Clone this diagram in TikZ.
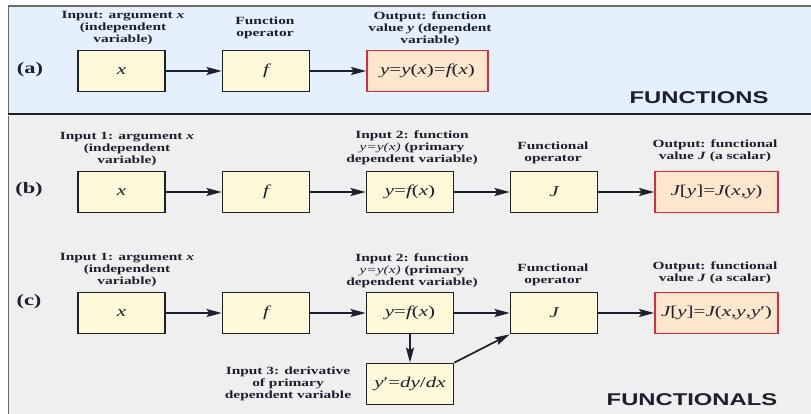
\documentclass[tikz,border=0pt]{standalone}
\usepackage{fontspec}
\setmainfont{Liberation Serif}[FakeStretch=1.4]
\newfontfamily\headfont{Liberation Sans}[FakeStretch=1.4]
\usetikzlibrary{arrows.meta}
\definecolor{panelA}{HTML}{E4F0FB}
\definecolor{panelB}{HTML}{EFEFEF}
\definecolor{boxfill}{HTML}{FDF9D8}
\definecolor{outfill}{HTML}{FCE6CC}
\definecolor{outline}{HTML}{E0283C}
\definecolor{ink}{HTML}{1E1E2E}
\definecolor{rim}{HTML}{6A6A6A}
\tikzset{
  opbox/.style={draw=ink, line width=1.8pt, fill=boxfill, minimum width=87pt,
    minimum height=41pt, inner sep=0pt, text=ink,
    font=\fontsize{15}{17}\selectfont\itshape},
  outbox/.style={opbox, draw=outline},
  lbl/.style={font=\fontsize{11}{12}\selectfont\bfseries, align=center,
    text=ink, inner sep=0pt},
  flow/.style={-{Stealth[length=15pt,width=8pt,inset=2.5pt]}, line width=1.7pt, draw=ink},
  tag/.style={font=\fontsize{16}{18}\selectfont\bfseries, text=ink, inner sep=0pt},
  head/.style={font=\headfont\fontsize{17}{19}\selectfont\bfseries, text=ink, inner sep=0pt},
}
\newcommand{\mi}[1]{\textit{\mdseries #1}}
\begin{document}
\begin{tikzpicture}[x=1pt,y=-1pt]
\useasboundingbox (0,0) rectangle (811,414);

% panels
\fill[panelA] (8,6) rectangle (811,114);
\fill[panelB] (8,115.5) rectangle (811,414);
\draw[rim, line width=1.8pt] (8.5,114) -- (8.5,6) -- (811,6);
\draw[ink, line width=1.5pt] (8,114.2) -- (811,114.2);
\draw[rim, line width=1.8pt] (8.5,116) -- (8.5,414);

% ---------- (a) functions ----------
\node[tag] (ta) at (30,70) {(a)};
\node[opbox] (ax) at (121.5,71) {x};
\node[opbox] (af) at (266,71) {f};
\node[outbox, minimum width=121pt, fill=outfill] (ay) at (427.5,71) {y\upshape=\itshape y\upshape(\itshape x\upshape)=\itshape f\upshape(\itshape x\upshape)};
\node[lbl] (lax) at (123,28.5) {Input: argument \textit{x}\\(independent\\variable)};
\node[lbl] (laf) at (265,28) {Function\\operator};
\node[lbl] (lay) at (430,28.5) {Output: function\\value \textit{y} (dependent\\variable)};
\node[head] (hfun) at (699,98) {FUNCTIONS};
\draw[flow] (ax) -- (af);
\draw[flow] (af) -- (ay);

% ---------- (b) functionals ----------
\node[tag] (tb) at (29,190) {(b)};
\node[opbox] (bx) at (121.5,192) {x};
\node[opbox] (bf) at (266,192) {f};
\node[opbox] (by) at (410,192) {y\upshape=\itshape f\upshape(\itshape x\upshape)};
\node[opbox] (bJ) at (554,192) {J};
\node[outbox, minimum width=123pt, fill=outfill] (bo) at (716.5,192) {J\upshape[\itshape y\upshape]=\itshape J\upshape(\itshape x\upshape,\itshape y\upshape)};
\node[lbl] (lbx) at (127,149) {Input 1: argument \textit{x}\\(independent\\variable)};
\node[lbl] (lby) at (412,148) {Input 2: function\\\mi{y=y(x)} (primary\\dependent variable)};
\node[lbl] (lbJ) at (553,152.5) {Functional\\operator};
\node[lbl] (lbo) at (715,151) {Output: functional\\value \textit{J} (a scalar)};
\draw[flow] (bx) -- (bf);
\draw[flow] (bf) -- (by);
\draw[flow] (by) -- (bJ);
\draw[flow] (bJ) -- (bo);

% ---------- (c) functionals with derivative ----------
\node[tag] (tc) at (29,302) {(c)};
\node[opbox] (cx) at (121.5,313) {x};
\node[opbox] (cf) at (266,313) {f};
\node[opbox] (cy) at (410,313) {y\upshape=\itshape f\upshape(\itshape x\upshape)};
\node[opbox] (cJ) at (554,313) {J};
\node[outbox, minimum width=123pt, fill=outfill] (co) at (716.5,313) {J\upshape[\itshape y\upshape]=\itshape J\upshape(\itshape x\upshape,\itshape y\upshape,\itshape y\upshape\char"2032)};
\node[opbox] (cd) at (410,384) {y\upshape\char"2032=\itshape dy\upshape/\itshape dx};
\node[lbl] (lcx) at (127,270) {Input 1: argument \textit{x}\\(independent\\variable)};
\node[lbl] (lcy) at (412,271) {Input 2: function\\\mi{y=y(x)} (primary\\dependent variable)};
\node[lbl] (lcJ) at (553,275) {Functional\\operator};
\node[lbl] (lco) at (715,273) {Output: functional\\value \textit{J} (a scalar)};
\node[lbl] (lcd) at (288,384) {Input 3: derivative\\of primary\\dependent variable};
\node[head] (hfnl) at (692,400) {FUNCTIONALS};
\draw[flow] (cx) -- (cf);
\draw[flow] (cf) -- (cy);
\draw[flow] (cy) -- (cJ);
\draw[flow] (cJ) -- (co);
\draw[flow] (cy.south) -- (cd.north);
\draw[flow] (cd.north east) -- (cJ.south west);
\end{tikzpicture}
\end{document}
